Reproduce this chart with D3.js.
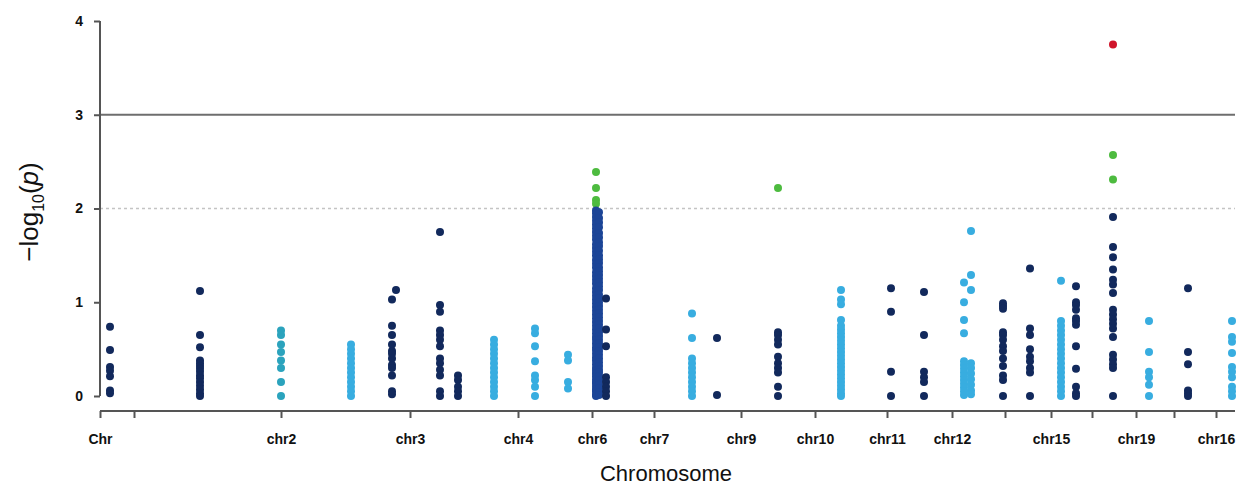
<!DOCTYPE html>
<html>
<head>
<meta charset="utf-8">
<script src="https://cdn.jsdelivr.net/npm/d3@7"></script>
<style>
  body { margin: 0; background: #fff; }
  svg { display: block; font-family: "Liberation Sans", Arial, sans-serif; }
  .tickLbl { font-size: 14px; font-weight: bold; fill: #111; }
</style>
</head>
<body>
<div id="chart"></div>
<script>
// ---- data (positions along the genome in arbitrary cumulative units) ----
var colX = [10, 100, 181, 251, 292, 296, 340, 358, 394, 435, 468,
            496, 499, 506, 592, 617, 678, 741, 791, 824, 864, 871,
            903, 930, 961, 976, 1013, 1049, 1088, 1132];
var colGroup = ["navy", "navy", "teal", "sky", "navy", "navy", "navy", "navy", "sky", "sky", "sky",
                "blue", "blue", "navy", "sky", "navy", "navy", "sky", "navy", "navy", "sky", "sky",
                "navy", "navy", "sky", "navy", "navy", "sky", "navy", "sky"];
var colVals = [
  [0.74, 0.49, 0.31, 0.27, 0.21, 0.06, 0.03],
  [1.12, 0.65, 0.52, 0.38, 0.35, 0.32, 0.29, 0.26, 0.22, 0.19, 0.15, 0.11, 0.07, 0.03, 0.0],
  [0.7, 0.65, 0.55, 0.47, 0.38, 0.3, 0.15, 0.0],
  [0.55, 0.5, 0.45, 0.4, 0.35, 0.3, 0.25, 0.2, 0.15, 0.1, 0.05, 0.0],
  [1.03, 0.75, 0.65, 0.55, 0.48, 0.45, 0.4, 0.33, 0.3, 0.22, 0.05, 0.02],
  [1.13],
  [1.75, 0.97, 0.9, 0.7, 0.65, 0.6, 0.53, 0.4, 0.35, 0.28, 0.22, 0.05, 0.0],
  [0.22, 0.17, 0.1, 0.05, 0.0],
  [0.6, 0.55, 0.5, 0.45, 0.4, 0.35, 0.3, 0.25, 0.2, 0.15, 0.1, 0.05, 0.0],
  [0.72, 0.67, 0.53, 0.37, 0.22, 0.17, 0.1, 0.0],
  [0.44, 0.38, 0.15, 0.08],
  [2.39, 2.22, 2.09, 2.05, 1.98, 1.95, 1.91, 1.87, 1.83, 1.79, 1.75, 1.71, 1.67, 1.62, 1.58, 1.54,
   1.5, 1.45, 1.41, 1.37, 1.32, 1.28, 1.24, 1.2, 1.15, 1.11, 1.07, 1.03, 0.99, 0.95, 0.91,
   0.87, 0.83, 0.79, 0.75, 0.71, 0.67, 0.63, 0.6, 0.56, 0.52, 0.49, 0.45, 0.41, 0.38, 0.34,
   0.3, 0.27, 0.24, 0.21, 0.18, 0.15, 0.13, 0.1, 0.07, 0.05, 0.02, 0.0],
  [1.96, 1.9, 1.85, 1.8, 1.74, 1.69, 1.64, 1.6, 1.55, 1.5, 1.46, 1.42, 1.37, 1.33, 1.29, 1.25,
   1.21, 1.17, 1.13, 1.08, 1.04, 1.0, 0.96, 0.92, 0.88, 0.84, 0.8, 0.76, 0.72, 0.68, 0.64,
   0.6, 0.56, 0.52, 0.48, 0.44, 0.4, 0.36, 0.32, 0.28, 0.25, 0.21, 0.17, 0.12, 0.08, 0.04, 0.01],
  [1.04, 0.71, 0.53, 0.2, 0.15, 0.1, 0.05, 0.0],
  [0.88, 0.62, 0.4, 0.35, 0.3, 0.25, 0.2, 0.15, 0.1, 0.05, 0.0],
  [0.62, 0.01],
  [2.22, 0.68, 0.65, 0.6, 0.55, 0.42, 0.35, 0.3, 0.25, 0.1, 0.0],
  [1.13, 1.03, 0.98, 0.81, 0.75, 0.71, 0.67, 0.63, 0.59, 0.55, 0.51, 0.47, 0.43, 0.39, 0.35,
   0.31, 0.27, 0.23, 0.19, 0.15, 0.11, 0.07, 0.03, 0.0],
  [1.15, 0.9, 0.26, 0.0],
  [1.11, 0.65, 0.26, 0.2, 0.15, 0.0],
  [1.21, 1.0, 0.81, 0.67, 0.37, 0.33, 0.29, 0.25, 0.21, 0.17, 0.13, 0.09, 0.05, 0.01],
  [1.76, 1.29, 1.13, 0.35, 0.3, 0.24, 0.18, 0.12, 0.06, 0.02],
  [0.99, 0.96, 0.93, 0.68, 0.65, 0.6, 0.53, 0.48, 0.4, 0.32, 0.22, 0.17, 0.0],
  [1.36, 0.72, 0.65, 0.5, 0.42, 0.37, 0.3, 0.25, 0.0],
  [1.23, 0.8, 0.75, 0.7, 0.65, 0.6, 0.55, 0.5, 0.45, 0.4, 0.35, 0.3, 0.25, 0.2, 0.15, 0.1, 0.05, 0.0],
  [1.17, 1.0, 0.97, 0.92, 0.83, 0.8, 0.76, 0.53, 0.29, 0.1, 0.03, 0.0],
  [3.75, 2.57, 2.31, 1.91, 1.59, 1.48, 1.35, 1.24, 1.19, 1.1, 0.92, 0.87, 0.82, 0.77, 0.72,
   0.63, 0.44, 0.39, 0.34, 0.3, 0.0],
  [0.8, 0.47, 0.26, 0.2, 0.12, 0.0],
  [1.15, 0.47, 0.34, 0.06, 0.03, 0.0],
  [0.8, 0.63, 0.58, 0.46, 0.31, 0.26, 0.2, 0.1, 0.05, 0.0]
];
var chrTickPos = [0, 34, 181, 310, 418, 492, 554, 641, 715, 787, 852, 905, 951, 992, 1036, 1074, 1116];
var chrLabels = ["Chr", "", "chr2", "chr3", "chr4", "chr6", "chr7", "chr9", "chr10", "chr11",
                 "chr12", "", "chr15", "", "chr19", "", "chr16"];
var yTicks = [0, 1, 2, 3, 4];
var suggestiveLine = 2;
var significantLine = 3;

var groupColor = { navy: "#12295c", blue: "#1c4597", sky: "#38ade0", teal: "#2ba3bd" };

// ---- layout ----
var width = 1239, height = 487;
var x = d3.scaleLinear().domain([0, 1135]).range([100, 1235]);
var y = d3.scaleLinear().domain([0, 4]).range([396, 21]);
var xAxisY = 411;

var svg = d3.select("#chart").append("svg")
    .attr("width", width)
    .attr("height", height);

// threshold lines
svg.append("line")
    .attr("x1", x(0)).attr("x2", x(1135))
    .attr("y1", y(significantLine)).attr("y2", y(significantLine))
    .attr("stroke", "#6e6e6e").attr("stroke-width", 2);
svg.append("line")
    .attr("x1", x(0)).attr("x2", x(1135))
    .attr("y1", y(suggestiveLine)).attr("y2", y(suggestiveLine))
    .attr("stroke", "#c4c4c4").attr("stroke-width", 1.5)
    .attr("stroke-dasharray", "3,3");

// points
var pts = [];
colVals.forEach(function (vals, i) {
    vals.forEach(function (v) {
        pts.push({ x: colX[i], v: v, g: colGroup[i] });
    });
});
svg.append("g").selectAll("circle")
    .data(pts)
    .join("circle")
    .attr("cx", function (d) { return x(d.x); })
    .attr("cy", function (d) { return y(d.v); })
    .attr("r", 4)
    .attr("fill", function (d) {
        if (d.v > significantLine) return "#d0152b";
        if (d.v > suggestiveLine) return "#4dbb3f";
        return groupColor[d.g];
    });

// y axis
var yAxis = svg.append("g")
    .attr("transform", "translate(100,0)")
    .call(d3.axisLeft(y).tickValues(yTicks).tickFormat(d3.format("d")).tickSize(6).tickPadding(11));
yAxis.select(".domain").attr("stroke", "#555").attr("stroke-width", 2)
    .attr("d", "M0," + y(4) + "V" + y(0));
yAxis.selectAll(".tick line").attr("stroke", "#555").attr("stroke-width", 2);
yAxis.selectAll(".tick text").attr("class", "tickLbl");

// x axis
var xAxis = svg.append("g")
    .attr("transform", "translate(0," + xAxisY + ")")
    .call(d3.axisBottom(x).tickValues(chrTickPos)
        .tickFormat(function (d, i) { return chrLabels[i]; })
        .tickSize(7).tickPadding(16));
xAxis.select(".domain").attr("stroke", "#555").attr("stroke-width", 2)
    .attr("d", "M" + x(0) + ",0H" + x(1135));
xAxis.selectAll(".tick line").attr("stroke", "#555").attr("stroke-width", 2);
xAxis.selectAll(".tick text").attr("class", "tickLbl");

// axis titles
svg.append("text")
    .attr("x", 666).attr("y", 481)
    .attr("text-anchor", "middle")
    .style("font-size", "22px").style("fill", "#111")
    .text("Chromosome");

var yt = svg.append("text")
    .attr("transform", "translate(38,212) rotate(-90)")
    .attr("text-anchor", "middle")
    .style("font-size", "26px").style("fill", "#111");
yt.append("tspan").text("\u2212log");
yt.append("tspan").attr("dy", 6).style("font-size", "16px").text("10");
yt.append("tspan").attr("dy", -6).text("(");
yt.append("tspan").style("font-style", "italic").text("p");
yt.append("tspan").text(")");
</script>
</body>
</html>
